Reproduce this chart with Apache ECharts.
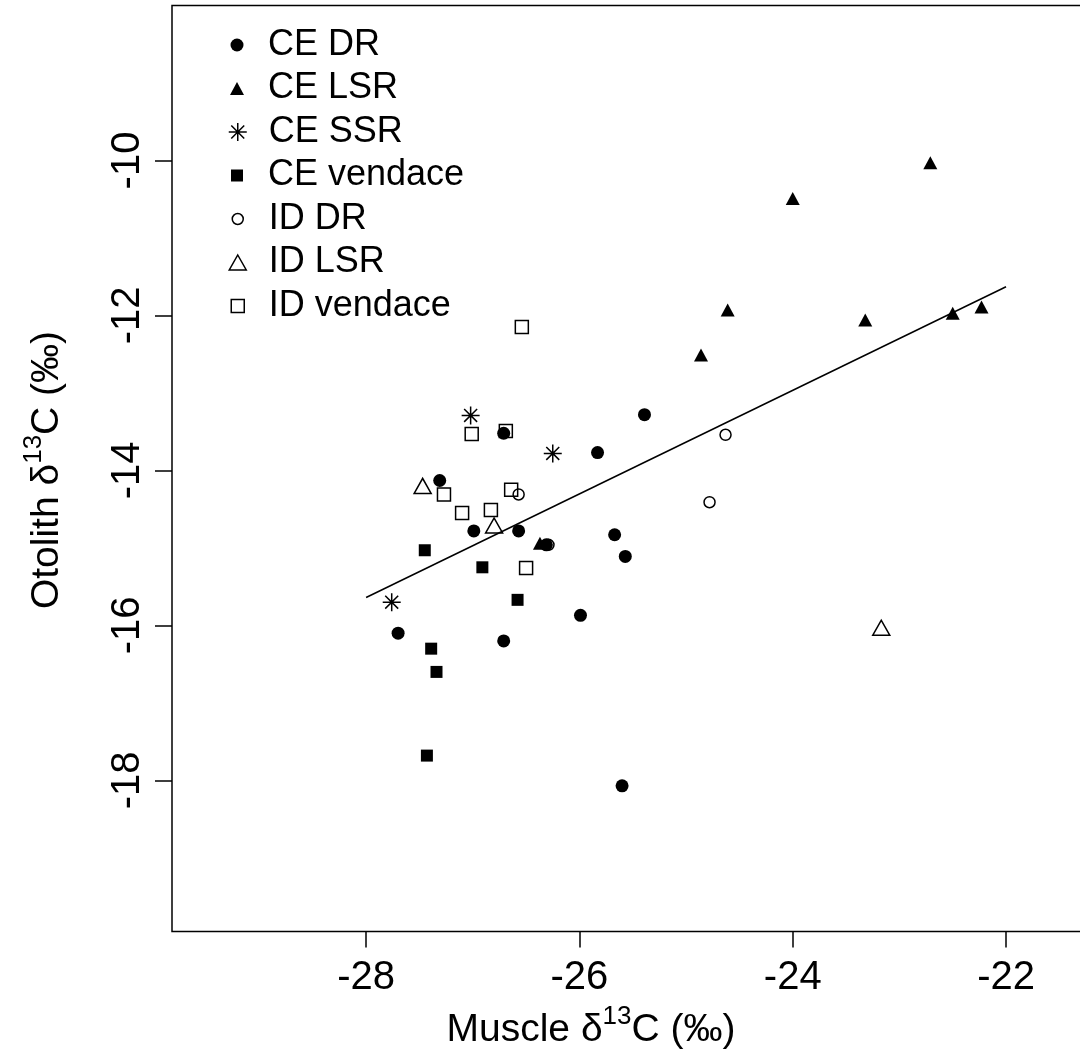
<!DOCTYPE html>
<html><head><meta charset="utf-8">
<script src="https://cdn.jsdelivr.net/npm/echarts@6/dist/echarts.min.js"></script>
<style>html,body{margin:0;padding:0;background:#fff}#c{width:1080px;height:1057px}</style>
</head><body><div id="c"></div>
<script>
const xTicks = [-28, -26, -24, -22];
const yTicks = [-18, -16, -14, -12, -10];
const seriesNames = ['CE DR', 'CE LSR', 'CE SSR', 'CE vendace', 'ID DR', 'ID LSR', 'ID vendace'];
const ceDR = [[-26.71,-13.52],[-25.83,-13.77],[-27.31,-14.13],[-26.99,-14.78],[-26.57,-14.78],[-26.31,-14.96],[-25.67,-14.83],[-25.57,-15.11],[-25.99,-15.87],[-27.70,-16.10],[-26.71,-16.20],[-25.60,-18.07],[-25.39,-13.28]];
const ceLSR = [[-22.71,-10.03],[-24.00,-10.49],[-24.61,-11.93],[-23.32,-12.06],[-22.50,-11.97],[-22.23,-11.89],[-24.86,-12.51],[-26.37,-14.94]];
const ceSSR = [[-27.02,-13.29],[-26.25,-13.78],[-27.76,-15.70]];
const ceVendace = [[-27.45,-15.03],[-26.91,-15.25],[-26.58,-15.67],[-27.39,-16.30],[-27.34,-16.60],[-27.43,-17.68]];
const idDR = [[-26.57,-14.31],[-26.29,-14.96],[-24.63,-13.54],[-24.78,-14.41]];
const idLSR = [[-27.47,-14.20],[-26.80,-14.71],[-23.17,-16.03]];
const idVendace = [[-27.01,-13.53],[-26.69,-13.49],[-27.27,-14.31],[-26.64,-14.25],[-27.10,-14.55],[-26.83,-14.51],[-26.50,-15.26],[-26.54,-12.15]];
const fitLine = [[-28, -15.64], [-22, -11.63]];

const FONT = '"Liberation Sans", Arial, sans-serif';
const ASTER = 'path://M0,-1L0,1M-1,0L1,0M-0.72,-0.72L0.72,0.72M-0.72,0.72L0.72,-0.72';

const styles = [
  {data: ceDR, symbol: 'circle', size: 13, filled: true},
  {data: ceLSR, symbol: 'triangle', size: [14, 13], filled: true},
  {data: ceSSR, symbol: ASTER, size: 18, filled: false},
  {data: ceVendace, symbol: 'rect', size: 12, filled: true},
  {data: idDR, symbol: 'circle', size: 11, filled: false},
  {data: idLSR, symbol: 'triangle', size: [17, 15], filled: false},
  {data: idVendace, symbol: 'rect', size: 13, filled: false}
];

const series = styles.map((s, i) => ({
  name: seriesNames[i],
  type: 'scatter',
  data: s.data,
  symbol: s.symbol,
  symbolSize: s.size,
  itemStyle: s.filled ? {color: '#000', borderWidth: 0, opacity: 1}
                      : {color: 'rgba(0,0,0,0)', borderColor: '#000', borderWidth: 1.5, opacity: 1},
  emphasis: {disabled: true},
  z: 3
}));
series.push({
  type: 'line', data: fitLine, symbol: 'none', silent: true,
  lineStyle: {color: '#000', width: 1.5}, z: 4
});

const rowY = [45, 88.5, 132, 175.5, 219, 262.5, 306];
const legends = styles.map((s, i) => {
  const w = Array.isArray(s.size) ? s.size[0] : s.size;
  const h = Array.isArray(s.size) ? s.size[1] : s.size;
  return {
    data: [seriesNames[i]],
    orient: 'vertical',
    left: 237 - w / 2,
    top: rowY[i] - 20,
    padding: 0,
    itemWidth: w,
    itemHeight: h,
    selectedMode: false,
    itemStyle: s.filled ? {borderWidth: 0, opacity: 1} : {borderWidth: 1.5, borderColor: '#000', opacity: 1},
    textStyle: {fontSize: 36, fontFamily: FONT, color: '#000', lineHeight: 40,
                padding: [0, 0, 0, 26 - w / 2]}
  };
});

const titleRich = {
  a: {fontSize: 39, fontFamily: FONT, fill: '#000', verticalAlign: 'bottom', lineHeight: 46},
  s: {fontSize: 26, fontFamily: FONT, fill: '#000', verticalAlign: 'top', lineHeight: 26}
};

const chart = echarts.init(document.getElementById('c'), null, {renderer: 'canvas'});
chart.setOption({
  animation: false,
  backgroundColor: '#fff',
  grid: {left: 172, top: 5.5, width: 921.5, height: 926, show: true,
         outerBoundsMode: 'none', containLabel: false,
         borderColor: '#000', borderWidth: 1.5, backgroundColor: 'transparent'},
  xAxis: {
    type: 'value', min: -29.82, max: -21.18,
    axisLine: {show: false},
    splitLine: {show: false},
    axisTick: {show: true, length: 16, customValues: xTicks, lineStyle: {color: '#000', width: 1.5}},
    axisLabel: {customValues: xTicks, fontSize: 40, fontFamily: FONT, color: '#000', margin: 26}
  },
  yAxis: {
    type: 'value', min: -19.95, max: -8.0,
    axisLine: {show: false},
    splitLine: {show: false},
    axisTick: {show: true, length: 17, customValues: yTicks, lineStyle: {color: '#000', width: 1.5}},
    axisLabel: {customValues: yTicks, fontSize: 40, fontFamily: FONT, color: '#000', margin: 24, rotate: 90}
  },
  legend: legends,
  series: series,
  graphic: [
    {
      type: 'text', x: 591, y: 1027,
      style: {
        text: '{a|Muscle δ}{s|13}{a|C (‰)}',
        align: 'center', verticalAlign: 'middle',
        rich: titleRich
      }
    },
    {
      type: 'text', x: 44, y: 470, rotation: Math.PI / 2,
      style: {
        text: '{a|Otolith δ}{s|13}{a|C (‰)}',
        align: 'center', verticalAlign: 'middle',
        rich: titleRich
      }
    }
  ]
});
</script>
</body></html>
